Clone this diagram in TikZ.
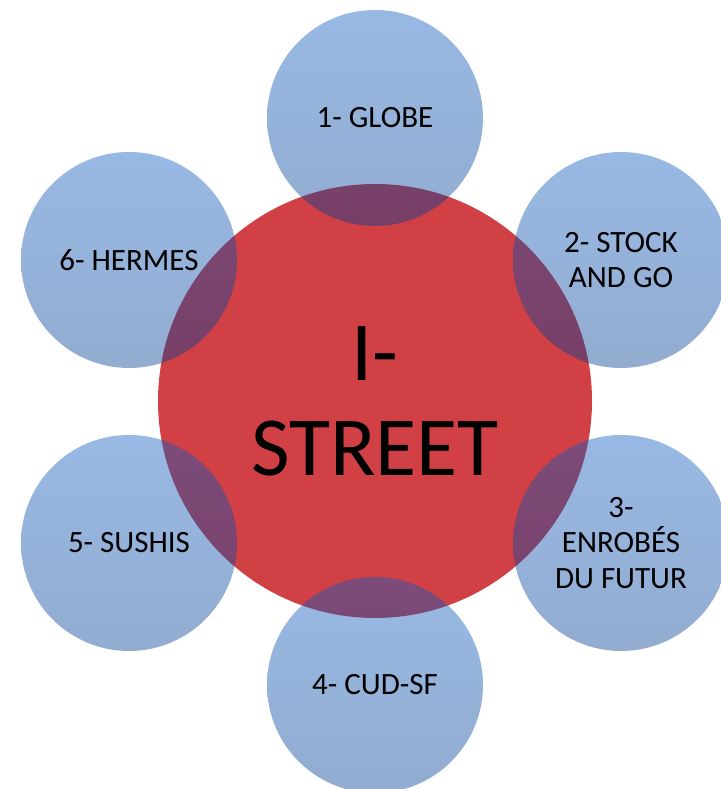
\documentclass[tikz,border=0pt]{standalone}
\usepackage{fontspec}
\setmainfont{Carlito}
\definecolor{streetred}{RGB}{208,64,69}
\definecolor{bubbletop}{RGB}{15,92,192}
\definecolor{bubblebottom}{RGB}{4,62,146}

\begin{document}
\begin{tikzpicture}[x=1pt, y=1pt,
	hub/.style={circle, fill=streetred, minimum size=434pt, inner sep=0pt, align=center, font=\fontsize{84}{95}\selectfont},
	bubble/.style={circle, top color=bubbletop, bottom color=bubblebottom, fill opacity=0.43, text opacity=1, minimum size=216pt, inner sep=0pt, align=center, font=\fontsize{31}{35.5}\selectfont}]
	\useasboundingbox (0,0) rectangle (720,789);
	\node[hub] (street) at (375,388) {I-\\STREET};
	\node[bubble] (globe) at (375,671) {1- GLOBE};
	\node[bubble] (stock) at (621,529) {2- STOCK\\AND GO};
	\node[bubble] (enrobes) at (621,246) {3-\\ENROBÉS\\DU FUTUR};
	\node[bubble] (cud) at (375,104) {4- CUD-SF};
	\node[bubble] (sushis) at (129,246) {5- SUSHIS};
	\node[bubble] (hermes) at (129,529) {6- HERMES};
\end{tikzpicture}
\end{document}
